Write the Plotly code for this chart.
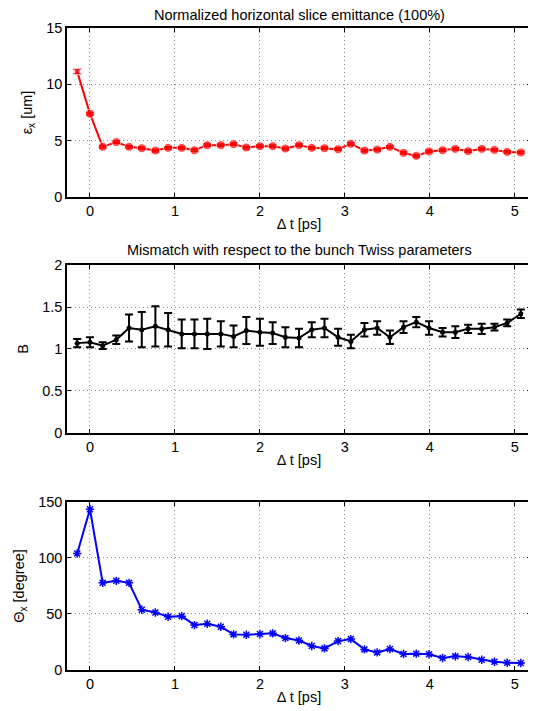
import plotly.graph_objects as go
from plotly.subplots import make_subplots

dt = [-0.15, 0.0, 0.15, 0.31, 0.46, 0.61, 0.77, 0.92, 1.08, 1.23, 1.38, 1.54,
      1.69, 1.84, 2.00, 2.15, 2.30, 2.46, 2.61, 2.76, 2.92, 3.07, 3.23, 3.38,
      3.53, 3.69, 3.84, 3.99, 4.15, 4.30, 4.45, 4.61, 4.76, 4.91, 5.07]

emit = [11.13, 7.39, 4.45, 4.87, 4.45, 4.33, 4.12, 4.36, 4.36, 4.15, 4.60, 4.60,
        4.69, 4.39, 4.51, 4.51, 4.30, 4.60, 4.36, 4.33, 4.24, 4.72, 4.12, 4.21,
        4.45, 3.92, 3.65, 4.04, 4.15, 4.27, 4.07, 4.27, 4.18, 4.00, 3.95]
emit_err = [0.2] + [0.1] * 34

bmag = [1.07, 1.08, 1.04, 1.11, 1.25, 1.23, 1.27, 1.23, 1.18, 1.18, 1.18, 1.18,
        1.15, 1.22, 1.20, 1.19, 1.14, 1.13, 1.23, 1.25, 1.14, 1.09, 1.23, 1.25,
        1.14, 1.26, 1.32, 1.25, 1.20, 1.20, 1.24, 1.24, 1.26, 1.31, 1.42]
bmag_err = [0.05, 0.06, 0.04, 0.05, 0.16, 0.21, 0.24, 0.20, 0.17, 0.17, 0.18, 0.15,
            0.13, 0.16, 0.16, 0.13, 0.12, 0.11, 0.09, 0.11, 0.10, 0.08, 0.08, 0.08,
            0.08, 0.07, 0.06, 0.08, 0.05, 0.07, 0.05, 0.06, 0.04, 0.04, 0.05]

theta = [104, 143.5, 77.8, 79.6, 77.8, 53.8, 51.4, 47.5, 48.1, 40.1, 41.3, 38.6,
         31.8, 31.5, 32.1, 32.7, 28.5, 26.4, 21.4, 19.3, 25.8, 27.6, 18.4, 15.7,
         18.7, 14.3, 14.6, 14.0, 10.7, 12.2, 11.6, 9.2, 7.4, 6.5, 6.2]

titles = ["Normalized horizontal slice emittance (100%)",
          "Mismatch with respect to the bunch Twiss parameters"]
xlabel = "Δ t [ps]"
ylabels = ["ε<sub>x</sub> [um]", "B", "Θ<sub>x</sub> [degree]"]

FS = 14.5

fig = make_subplots(rows=3, cols=1)

emit_symbols = ["square"] + ["circle"] * 34
emit_sizes = [6] + [9] * 34
fig.add_trace(go.Scatter(
    x=dt, y=emit, mode="lines+markers",
    line=dict(color="#ff0000", width=2),
    marker=dict(color="#ff0000", size=emit_sizes, symbol=emit_symbols),
    error_y=dict(type="data", array=emit_err, color="#ff0000", thickness=1.5, width=4),
), row=1, col=1)

fig.add_trace(go.Scatter(
    x=dt, y=bmag, mode="lines+markers",
    line=dict(color="#000000", width=2),
    marker=dict(color="#000000", size=5, symbol="circle"),
    error_y=dict(type="data", array=bmag_err, color="#000000", thickness=2, width=4),
), row=2, col=1)

fig.add_trace(go.Scatter(
    x=dt, y=theta, mode="lines+markers",
    line=dict(color="#0000ff", width=2),
    marker=dict(color="#0000ff", size=7, symbol="asterisk-open",
                line=dict(color="#0000ff", width=1.5)),
), row=3, col=1)

domains = [[0.7368, 1.0], [0.3692, 0.6308], [0.0, 0.2617]]
yranges = [[0, 15], [0, 2], [0, 150]]
ytickvals = [[0, 5, 10, 15], [0, 0.5, 1, 1.5, 2], [0, 50, 100, 150]]
yticktext = [["0", "5", "10", "15"], ["0", "0.5", "1", "1.5", "2"], ["0", "50", "100", "150"]]
xtickvals = [0, 1, 2, 3, 4, 5]

axis_common = dict(
    showline=True, linecolor="black", linewidth=1.5, mirror="ticks",
    ticks="inside", ticklen=4, tickcolor="black", tickwidth=1,
    showgrid=True, gridcolor="#888888", griddash="1px,3px", gridwidth=1,
    zeroline=False, tickfont=dict(size=FS, color="black"), automargin=False,
)

for i in range(3):
    r = i + 1
    fig.update_xaxes(range=[-0.27, 5.19], tickvals=xtickvals,
                     title=dict(text=xlabel, font=dict(size=FS, color="black"), standoff=1),
                     row=r, col=1, **axis_common)
    fig.update_yaxes(range=yranges[i], tickvals=ytickvals[i], ticktext=yticktext[i],
                     domain=domains[i],
                     title=dict(text=ylabels[i], font=dict(size=FS, color="black"), standoff=10),
                     row=r, col=1, **axis_common)

annotations = [
    dict(text=titles[0], x=0.5, y=1.0, xref="paper", yref="paper",
         yanchor="bottom", xanchor="center", yshift=3, showarrow=False,
         font=dict(size=FS, color="black")),
    dict(text=titles[1], x=0.5, y=0.6308, xref="paper", yref="paper",
         yanchor="bottom", xanchor="center", yshift=5, showarrow=False,
         font=dict(size=FS, color="black")),
]

# The page body adds an 8px offset, so the figure is sized to 528x703.
fig.update_layout(
    width=528, height=703,
    margin=dict(l=59, r=5, t=20, b=41),
    paper_bgcolor="white", plot_bgcolor="white",
    showlegend=False,
    font=dict(family="Liberation Sans, Arial, sans-serif", color="black"),
    annotations=annotations,
)

fig.write_html("out.html")
